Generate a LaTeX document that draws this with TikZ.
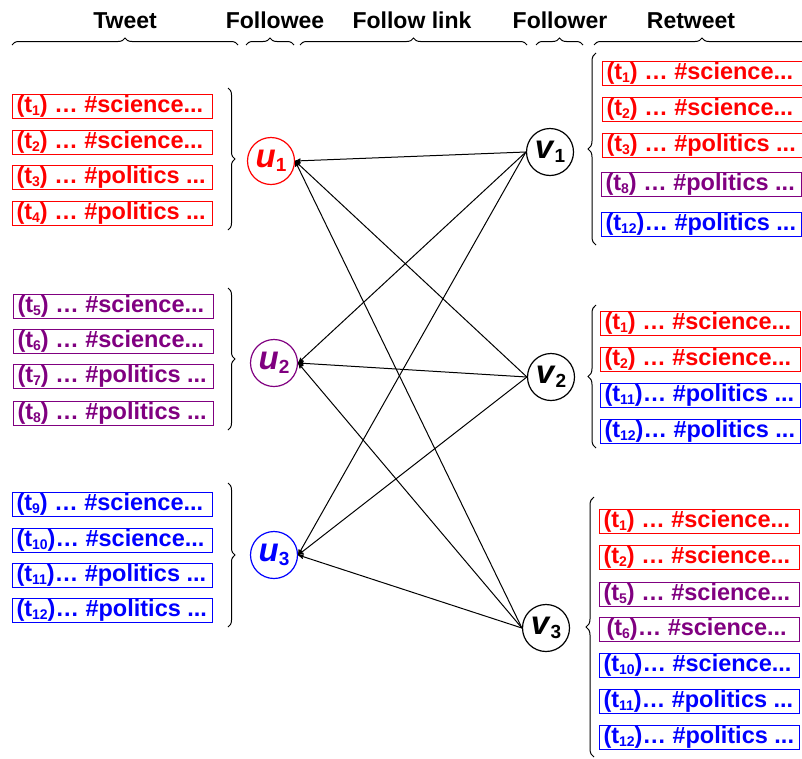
\documentclass[tikz,border=0pt]{standalone}
\usepackage{fontspec}
\setmainfont{Liberation Sans}
\usetikzlibrary{decorations.pathreplacing,arrows}
\definecolor{tpurple}{RGB}{128,0,128}
\newcommand{\tw}[1]{(t\raisebox{-3pt}{\fontsize{14}{14}\selectfont #1})}
\newcommand{\usr}[2]{\textit{#1}\raisebox{-4pt}{\fontsize{19}{19}\selectfont #2}}
\newcommand{\tline}[1]{\makebox[192pt][l]{#1}}

\begin{document}
\begin{tikzpicture}[x=1pt,y=-1pt,
  tweet/.style={draw=#1,text=#1,line width=1pt,inner xsep=4pt,inner ysep=0pt,
    minimum width=200pt,minimum height=24pt,anchor=west,
    font=\fontsize{23.5}{23.5}\selectfont\bfseries},
  user/.style={circle,draw=#1,text=#1,line width=1.2pt,minimum size=47pt,inner sep=0pt,
    font=\fontsize{33}{33}\selectfont\bfseries},
  brc/.style={decorate,decoration={brace,amplitude=#1},line width=1pt},
  head/.style={anchor=base,font=\fontsize{23}{23}\selectfont\bfseries},
  follow/.style={->,>=stealth',line width=1pt}]

\useasboundingbox (0,0) rectangle (802,758);

% headers
\node[head] (hTweet) at (125,28) {Tweet};
\node[head] (hFollowee) at (275,28) {Followee};
\node[head] (hLink) at (412,28) {Follow link};
\node[head] (hFollower) at (560,28) {Follower};
\node[head] (hRetweet) at (691,28) {Retweet};
\draw[brc=7pt] (12,45)--(238,45);
\draw[brc=7pt] (246,45)--(294,45);
\draw[brc=7pt] (300,45)--(527,45);
\draw[brc=7pt] (536,45)--(583,45);
\draw[brc=7pt] (594,45)--(810,45);

% tweets of the followees
\node[tweet=red] (a1) at (12,106) {\tline{\tw{1} … \#science...}};
\node[tweet=red] (a2) at (12,142) {\tline{\tw{2} … \#science...}};
\node[tweet=red] (a3) at (12,177) {\tline{\tw{3} … \#politics ...}};
\node[tweet=red] (a4) at (12,213) {\tline{\tw{4} … \#politics ...}};

\node[tweet=tpurple] (b1) at (13,306) {\tline{\tw{5} … \#science...}};
\node[tweet=tpurple] (b2) at (13,341) {\tline{\tw{6} … \#science...}};
\node[tweet=tpurple] (b3) at (13,376) {\tline{\tw{7} … \#politics ...}};
\node[tweet=tpurple] (b4) at (13,413) {\tline{\tw{8} … \#politics ...}};

\node[tweet=blue] (c1) at (12,504) {\tline{\tw{9} … \#science...}};
\node[tweet=blue] (c2) at (12,540) {\tline{\tw{10}… \#science...}};
\node[tweet=blue] (c3) at (12,575) {\tline{\tw{11}… \#politics ...}};
\node[tweet=blue] (c4) at (12,610) {\tline{\tw{12}… \#politics ...}};

\draw[brc=7pt] (228,88)--(228,230);
\draw[brc=7pt] (228,288)--(228,430);
\draw[brc=7pt] (228,483)--(228,627);

% followees and followers
\node[user=red] (u1) at (271,161) {\usr{u}{1}};
\node[user=tpurple] (u2) at (274,363) {\usr{u}{2}};
\node[user=blue] (u3) at (274,555) {\usr{u}{3}};
\node[user=black] (v1) at (550,152) {\usr{v}{1}};
\node[user=black] (v2) at (551,377) {\usr{v}{2}};
\node[user=black] (v3) at (546,628) {\usr{v}{3}};

\foreach \i in {1,2,3}
  \foreach \j in {1,2,3}
    \draw[follow] (v\i.west)--(u\j.east);

% retweets of the followers
\draw[brc=8pt] (596,245)--(596,53);
\draw[brc=8pt] (596,448)--(596,305);
\draw[brc=8pt] (594,757)--(594,497);

\node[tweet=red] (p1) at (602,73) {\tline{\tw{1} … \#science...}};
\node[tweet=red] (p2) at (602,109) {\tline{\tw{2} … \#science...}};
\node[tweet=red] (p3) at (602,145.5) {\tline{\tw{3} … \#politics ...}};
\node[tweet=tpurple] (p4) at (601,184.5) {\tline{\tw{8} … \#politics ...}};
\node[tweet=blue] (p5) at (601,224.5) {\tline{\tw{12}… \#politics ...}};

\node[tweet=red] (q1) at (600,323) {\tline{\tw{1} … \#science...}};
\node[tweet=red] (q2) at (600,359) {\tline{\tw{2} … \#science...}};
\node[tweet=blue] (q3) at (600,395) {\tline{\tw{11}… \#politics ...}};
\node[tweet=blue] (q4) at (600,431) {\tline{\tw{12}… \#politics ...}};

\node[tweet=red] (r1) at (599,521) {\tline{\tw{1} … \#science...}};
\node[tweet=red] (r2) at (599,557) {\tline{\tw{2} … \#science...}};
\node[tweet=tpurple] (r3) at (599,594) {\tline{\tw{5} … \#science...}};
\node[tweet=tpurple] (r4) at (599,629.5) {\tline{\hspace{3pt}\tw{6}… \#science...}};
\node[tweet=blue] (r5) at (599,665) {\tline{\tw{10}… \#science...}};
\node[tweet=blue] (r6) at (599,701.5) {\tline{\tw{11}… \#politics ...}};
\node[tweet=blue] (r7) at (599,737.5) {\tline{\tw{12}… \#politics ...}};
\end{tikzpicture}
\end{document}
